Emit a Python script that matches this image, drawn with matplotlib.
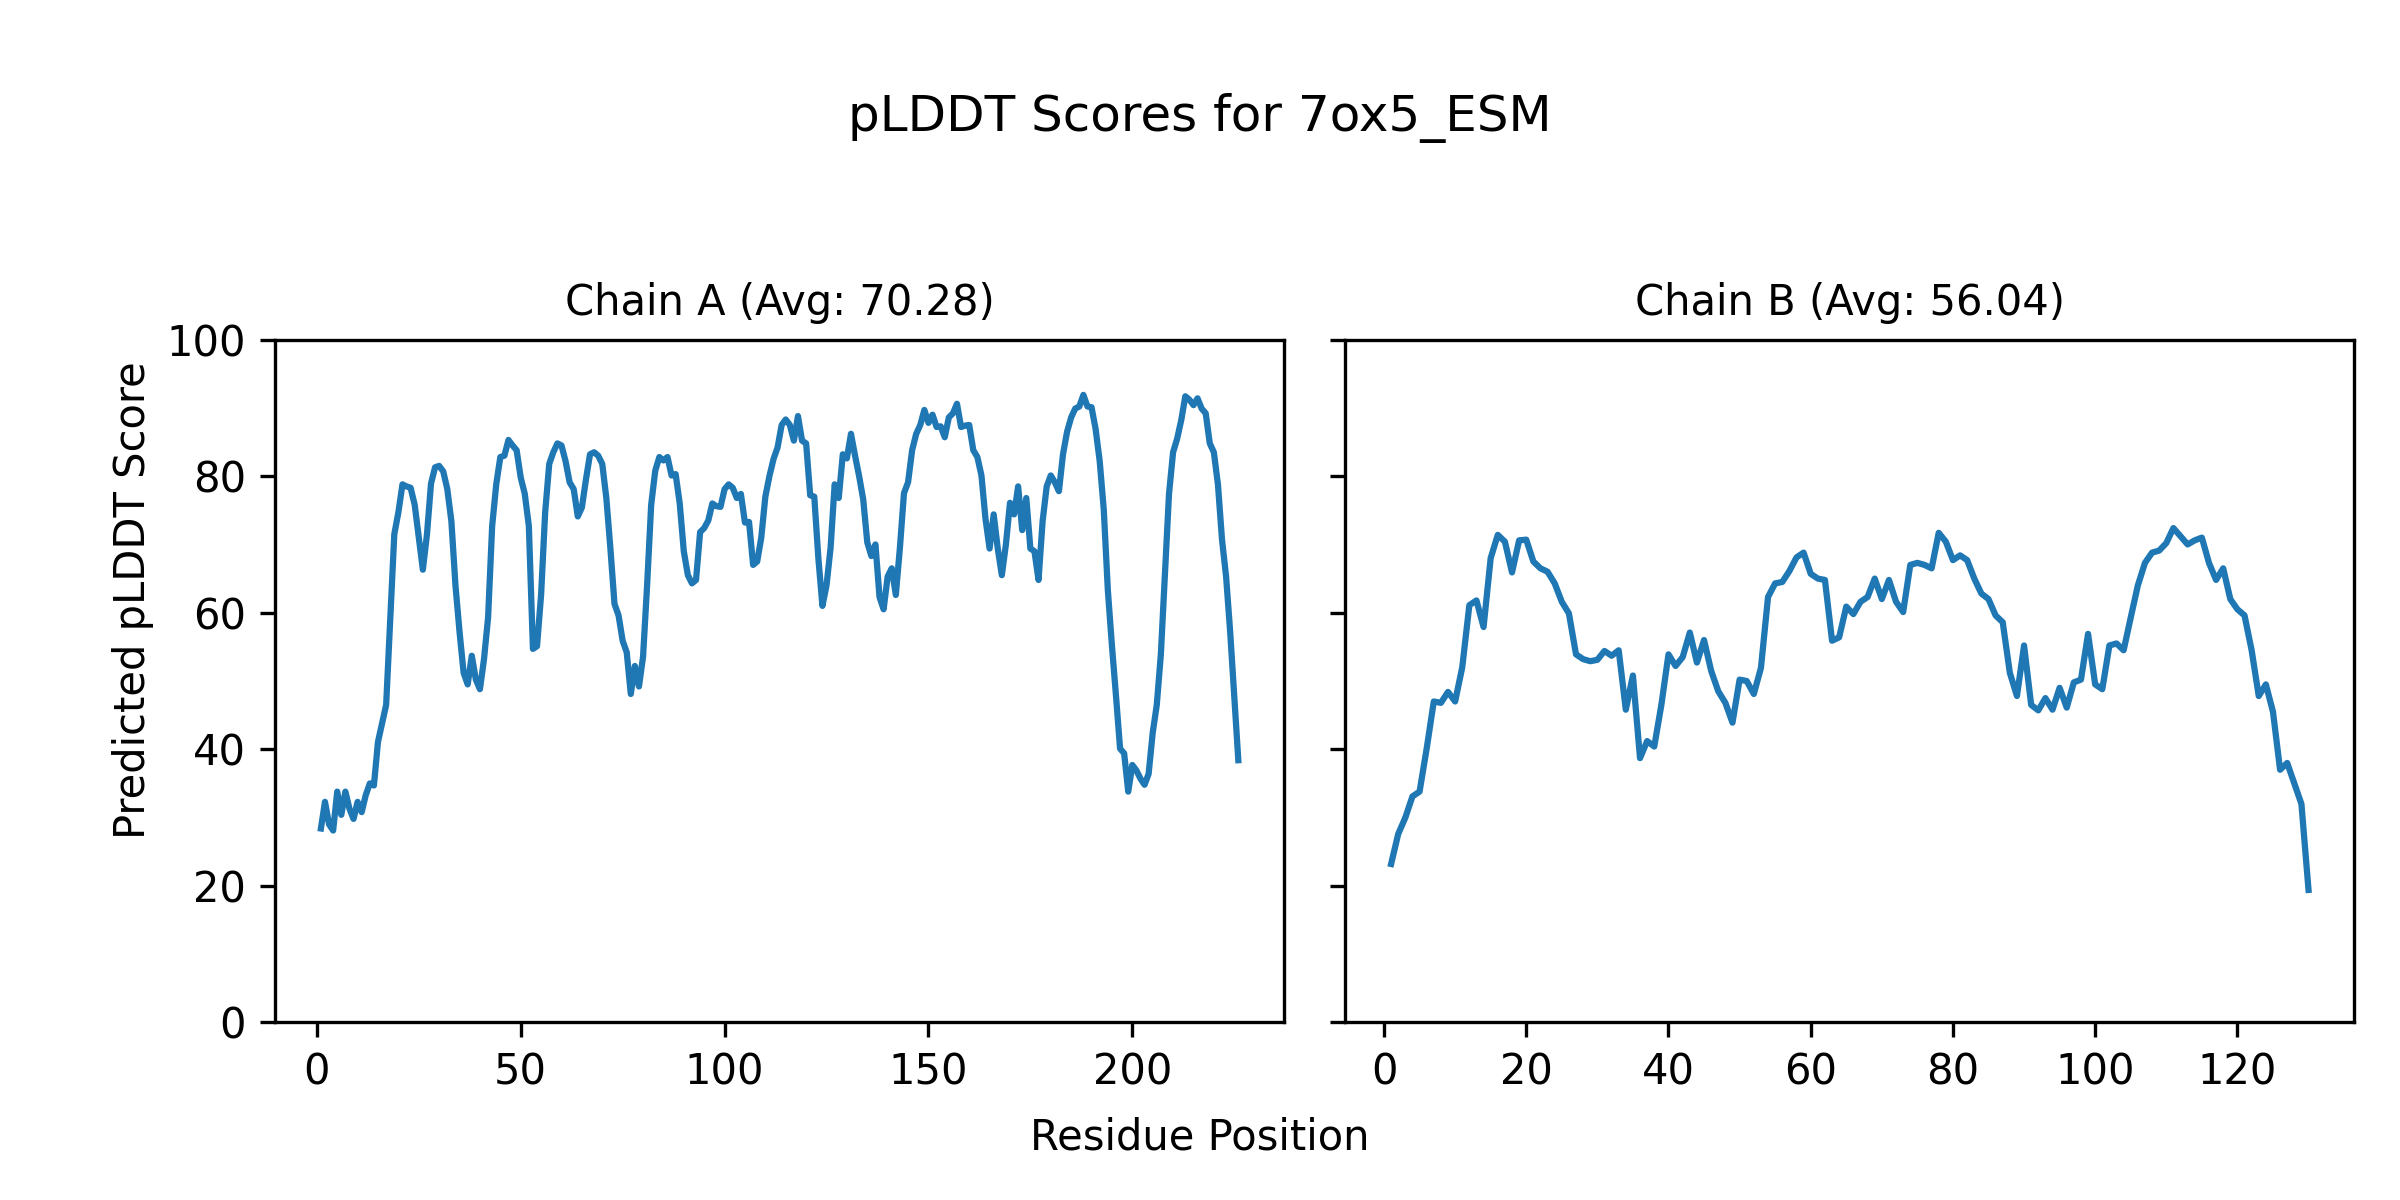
import numpy as np
import matplotlib
matplotlib.use("Agg")
import matplotlib.pyplot as plt

# pLDDT per residue
chain_a = [28.4, 32.3, 29.0, 28.1, 33.8, 30.4, 33.8, 31.3, 29.8, 32.3,
           30.8, 33.3, 35.0, 34.7, 41.1, 43.8, 46.5, 59.0, 71.5, 74.7,
           78.8, 78.5, 78.3, 75.8, 71.0, 66.3, 71.4, 78.9, 81.3, 81.5,
           80.7, 78.1, 73.4, 64.0, 57.2, 51.2, 49.5, 53.7, 50.2, 48.8,
           53.2, 59.3, 72.7, 78.8, 82.8, 83.0, 85.3, 84.5, 83.8, 79.8,
           77.4, 72.7, 54.7, 55.1, 62.6, 74.7, 81.8, 83.5, 84.8, 84.5,
           82.2, 79.1, 78.1, 74.1, 75.4, 79.5, 83.2, 83.5, 83.0, 81.8,
           76.8, 69.4, 61.3, 59.6, 55.9, 54.2, 48.1, 52.2, 49.2, 53.5,
           64.0, 75.8, 80.8, 82.8, 82.3, 82.8, 80.1, 80.3, 76.0, 69.0,
           65.5, 64.3, 64.8, 71.8, 72.4, 73.5, 76.0, 75.6, 75.5, 78.1,
           78.8, 78.3, 76.8, 77.4, 73.2, 73.3, 67.0, 67.5, 71.0, 77.0,
           80.0, 82.5, 84.2, 87.5, 88.3, 87.5, 85.2, 88.8, 85.2, 84.8,
           77.2, 77.0, 68.0, 61.0, 64.0, 69.5, 78.8, 76.8, 83.2, 82.6,
           86.2, 83.0, 80.0, 76.6, 70.3, 68.3, 70.0, 62.3, 60.5, 65.3,
           66.5, 62.6, 69.5, 77.5, 79.1, 83.8, 86.2, 87.5, 89.7, 87.8,
           89.0, 87.2, 87.3, 85.7, 88.6, 89.2, 90.6, 87.2, 87.4, 87.5,
           83.8, 82.8, 80.1, 73.7, 69.4, 74.4, 69.4, 65.5, 70.0, 76.1,
           74.4, 78.5, 72.1, 76.8, 69.4, 69.0, 64.8, 73.4, 78.5, 80.1,
           79.1, 77.8, 83.2, 86.5, 88.6, 89.9, 90.2, 91.9, 90.2, 90.1,
           86.9, 82.2, 75.1, 63.3, 55.2, 47.8, 40.1, 39.4, 33.8, 37.7,
           36.9, 35.7, 34.8, 36.4, 42.4, 46.5, 53.9, 65.7, 77.4, 83.5,
           85.5, 88.2, 91.7, 91.2, 90.4, 91.4, 89.9, 89.2, 84.8, 83.5,
           78.8, 70.7, 65.3, 57.2, 47.8, 38.4]

chain_b = [23.2, 27.6, 30.0, 33.1, 33.8, 40.1, 47.0, 46.8, 48.4, 47.0,
           52.0, 61.1, 61.8, 57.9, 68.0, 71.4, 70.4, 65.9, 70.6, 70.7,
           67.5, 66.5, 66.0, 64.3, 61.6, 59.9, 53.9, 53.2, 52.9, 53.1,
           54.4, 53.7, 54.5, 45.8, 50.8, 38.7, 41.2, 40.4, 46.5, 53.9,
           52.2, 53.5, 57.1, 52.7, 56.0, 51.5, 48.5, 46.8, 43.9, 50.2,
           50.0, 48.1, 51.9, 62.3, 64.3, 64.5, 66.1, 68.1, 68.8, 65.7,
           65.0, 64.8, 55.9, 56.4, 60.9, 59.8, 61.6, 62.3, 65.0, 62.0,
           64.8, 61.6, 60.1, 67.0, 67.3, 67.0, 66.5, 71.7, 70.4, 67.7,
           68.4, 67.7, 65.0, 62.8, 62.0, 59.6, 58.6, 51.2, 47.8, 55.2,
           46.5, 45.7, 47.5, 45.8, 49.0, 46.1, 49.8, 50.2, 56.9, 49.5,
           48.8, 55.2, 55.5, 54.5, 59.3, 64.0, 67.3, 68.8, 69.1, 70.2,
           72.4, 71.2, 70.0, 70.6, 71.0, 67.3, 64.8, 66.5, 62.0, 60.5,
           59.6, 54.5, 47.8, 49.5, 45.5, 37.0, 38.0, 35.0, 32.0, 19.4]

chains = ["A", "B"]
scores = [chain_a, chain_b]
averages = [70.28, 56.04]
model_name = "7ox5_ESM"

fig, axes = plt.subplots(1, 2, figsize=(8, 4), dpi=300, sharey=True)
fig.subplots_adjust(left=0.1146, right=0.981, bottom=0.148, top=0.717, wspace=0.0605)

for ax, chain, vals, avg in zip(axes, chains, scores, averages):
    res = np.arange(1, len(vals) + 1)
    ax.plot(res, vals)
    ax.set_title(f"Chain {chain} (Avg: {avg:.2f})", fontsize=10)
    ax.set_ylim(0, 100)

fig.suptitle(f"pLDDT Scores for {model_name}", fontsize=12, y=0.902, va="center")
fig.supxlabel("Residue Position", fontsize=10, y=0.0525, va="center")
fig.supylabel("Predicted pLDDT Score", fontsize=10, x=0.0467, va="center")

fig.savefig("out.png", dpi=300)
plt.close(fig)
